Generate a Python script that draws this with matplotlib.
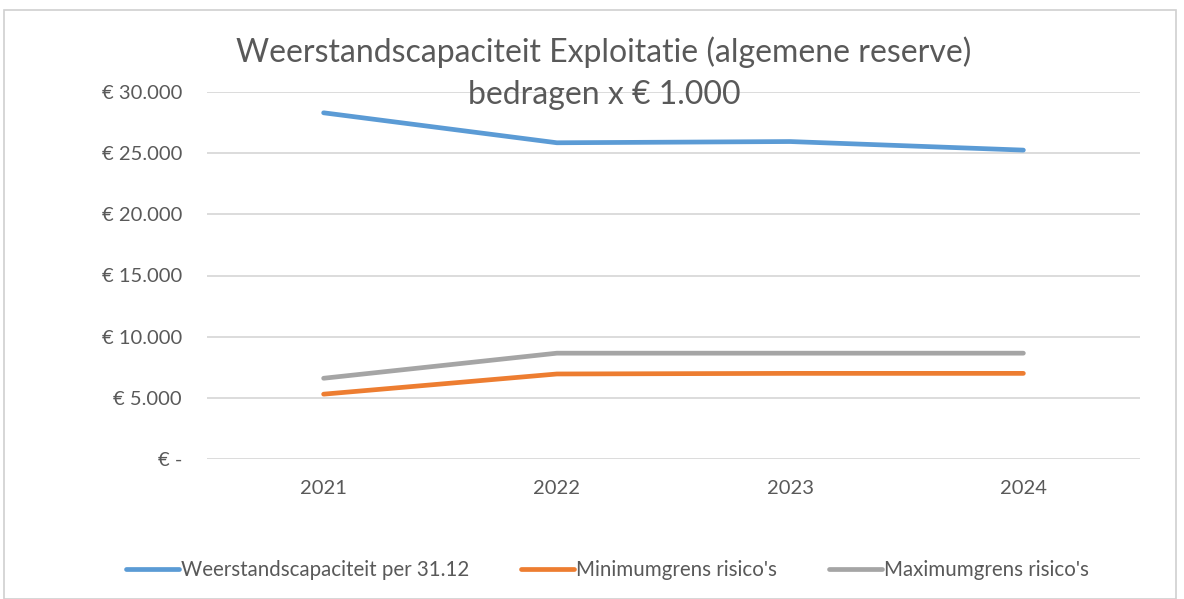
import matplotlib
matplotlib.use("Agg")
import matplotlib.pyplot as plt
from matplotlib.patches import Rectangle
from matplotlib.ticker import FuncFormatter

years = ["2021", "2022", "2023", "2024"]
weerstand = [28300, 25850, 25950, 25250]
minimum = [5300, 6950, 7000, 7000]
maximum = [6600, 8650, 8650, 8650]

series_names = ["Weerstandscapaciteit per 31.12", "Minimumgrens risico's", "Maximumgrens risico's"]
colors = ["#5B9BD5", "#ED7D31", "#A5A5A5"]
text_grey = "#595959"

plt.rcParams["font.family"] = ["Lato", "DejaVu Sans"]


def euro(v, pos):
    if v == 0:
        return "€ -"
    return "€ " + f"{int(v):,}".replace(",", ".")


fig = plt.figure(figsize=(11.84, 5.99), dpi=100)
fig.patches.append(Rectangle((4 / 1184, 0), 1172 / 1184, 1 - 10 / 599, transform=fig.transFigure,
                             fill=False, edgecolor="#d0d0d0", linewidth=1.2))

ax = fig.add_axes([207 / 1184, 1 - 459 / 599, 933 / 1184, 367 / 599])
x = range(len(years))
for vals, name, c in zip([weerstand, minimum, maximum], series_names, colors):
    ax.plot(x, vals, color=c, linewidth=3.4, solid_capstyle="round", label=name)

ax.set_xlim(-0.5, len(years) - 0.5)
ax.set_ylim(0, 30000)
ax.set_yticks(range(0, 30001, 5000))
ax.yaxis.set_major_formatter(FuncFormatter(euro))
ax.set_xticks(list(x))
ax.set_xticklabels(years)
ax.grid(axis="y", color="#d9d9d9", linewidth=1.3)
ax.set_axisbelow(True)
for s in ax.spines.values():
    s.set_visible(False)
ax.tick_params(length=0, colors=text_grey, labelsize=14.5)
ax.tick_params(axis="x", pad=15)
ax.tick_params(axis="y", pad=18)

fig.text(0.51, 1 - 52 / 599, "Weerstandscapaciteit Exploitatie (algemene reserve)",
         ha="center", va="center", fontsize=23, color=text_grey)
fig.text(0.51, 1 - 95 / 599, "bedragen x € 1.000",
         ha="center", va="center", fontsize=23, color=text_grey)

fig.legend(loc="center", bbox_to_anchor=(0.513, 1 - 570 / 599), ncol=3, frameon=False,
           fontsize=14.8, labelcolor=text_grey, handlelength=2.6, handletextpad=0.1,
           columnspacing=2.5)

fig.savefig("out.png", dpi=100)
